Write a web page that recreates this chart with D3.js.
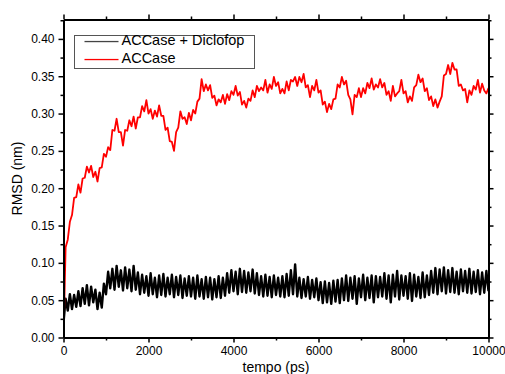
<!DOCTYPE html>
<html>
<head>
<meta charset="utf-8">
<script src="https://cdn.jsdelivr.net/npm/d3@7"></script>
<style>
  body { margin: 0; background: #fff; }
  svg { font-family: Arial, "Liberation Sans", sans-serif; }
</style>
</head>
<body>
<svg id="chart" width="505" height="374"></svg>
<script>
// sampling step of both series (ps)
const stepPs = 50;

const xTicks = [0, 2000, 4000, 6000, 8000, 10000];
const yTicks = [0.00, 0.05, 0.10, 0.15, 0.20, 0.25, 0.30, 0.35, 0.40];

const seriesNames = ['ACCase + Diclofop', 'ACCase'];
const seriesColors = ['#000000', '#ff0000'];
const legendColors = ['#444444', '#ff0000'];

// ACCase + Diclofop, RMSD (nm) every 50 ps
const rmsdDiclofop = [
  0.020, 0.052, 0.036, 0.058, 0.038, 0.057, 0.041, 0.062, 0.042, 0.066,
  0.045, 0.070, 0.043, 0.068, 0.047, 0.064, 0.038, 0.060, 0.040, 0.072,
  0.058, 0.088, 0.066, 0.092, 0.064, 0.096, 0.068, 0.090, 0.063, 0.094,
  0.066, 0.091, 0.062, 0.096, 0.064, 0.087, 0.058, 0.084, 0.060, 0.082,
  0.056, 0.086, 0.058, 0.080, 0.054, 0.083, 0.057, 0.085, 0.055, 0.080,
  0.058, 0.084, 0.054, 0.081, 0.057, 0.083, 0.053, 0.079, 0.056, 0.082,
  0.055, 0.080, 0.052, 0.083, 0.055, 0.078, 0.052, 0.081, 0.054, 0.080,
  0.051, 0.078, 0.054, 0.082, 0.053, 0.080, 0.056, 0.086, 0.060, 0.090,
  0.062, 0.088, 0.058, 0.092, 0.061, 0.089, 0.060, 0.087, 0.062, 0.091,
  0.059, 0.086, 0.057, 0.082, 0.055, 0.084, 0.056, 0.081, 0.054, 0.083,
  0.057, 0.080, 0.055, 0.082, 0.054, 0.085, 0.056, 0.090, 0.058, 0.098,
  0.055, 0.080, 0.053, 0.078, 0.055, 0.081, 0.052, 0.077, 0.054, 0.079,
  0.050, 0.074, 0.046, 0.075, 0.047, 0.073, 0.045, 0.076, 0.048, 0.077,
  0.046, 0.079, 0.050, 0.083, 0.049, 0.080, 0.052, 0.082, 0.045, 0.079,
  0.054, 0.084, 0.050, 0.080, 0.053, 0.083, 0.047, 0.082, 0.054, 0.081,
  0.055, 0.086, 0.052, 0.083, 0.047, 0.084, 0.055, 0.089, 0.051, 0.083,
  0.056, 0.082, 0.052, 0.086, 0.049, 0.084, 0.055, 0.081, 0.053, 0.087,
  0.054, 0.083, 0.057, 0.089, 0.060, 0.093, 0.058, 0.091, 0.062, 0.094,
  0.059, 0.090, 0.061, 0.093, 0.060, 0.088, 0.058, 0.091, 0.062, 0.089,
  0.060, 0.092, 0.059, 0.088, 0.061, 0.090, 0.058, 0.087, 0.060, 0.089,
  0.062
];

// ACCase, RMSD (nm) every 50 ps
const rmsdApo = [
  0.000, 0.121, 0.131, 0.155, 0.164, 0.187, 0.188, 0.205, 0.194, 0.213,
  0.214, 0.229, 0.221, 0.230, 0.215, 0.222, 0.209, 0.227, 0.228, 0.246,
  0.242, 0.255, 0.251, 0.278, 0.277, 0.293, 0.275, 0.275, 0.257, 0.278,
  0.277, 0.291, 0.283, 0.296, 0.280, 0.295, 0.295, 0.310, 0.303, 0.318,
  0.300, 0.306, 0.293, 0.304, 0.296, 0.311, 0.297, 0.297, 0.278, 0.281,
  0.263, 0.262, 0.250, 0.275, 0.281, 0.303, 0.293, 0.295, 0.286, 0.301,
  0.291, 0.305, 0.300, 0.316, 0.320, 0.346, 0.330, 0.339, 0.331, 0.338,
  0.321, 0.324, 0.311, 0.319, 0.315, 0.325, 0.313, 0.326, 0.318, 0.330,
  0.325, 0.337, 0.324, 0.329, 0.312, 0.317, 0.308, 0.320, 0.317, 0.331,
  0.322, 0.337, 0.330, 0.335, 0.331, 0.345, 0.328, 0.339, 0.333, 0.349,
  0.337, 0.342, 0.327, 0.333, 0.327, 0.343, 0.331, 0.345, 0.343, 0.349,
  0.337, 0.349, 0.342, 0.353, 0.335, 0.338, 0.322, 0.337, 0.331, 0.345,
  0.328, 0.331, 0.312, 0.316, 0.302, 0.313, 0.306, 0.319, 0.320, 0.339,
  0.335, 0.349, 0.339, 0.344, 0.325, 0.319, 0.299, 0.325, 0.322, 0.334,
  0.322, 0.334, 0.327, 0.341, 0.334, 0.347, 0.332, 0.339, 0.335, 0.346,
  0.335, 0.341, 0.325, 0.330, 0.317, 0.337, 0.323, 0.327, 0.330, 0.345,
  0.327, 0.330, 0.315, 0.323, 0.317, 0.335, 0.338, 0.352, 0.342, 0.347,
  0.330, 0.334, 0.318, 0.323, 0.310, 0.319, 0.308, 0.316, 0.323, 0.351,
  0.353, 0.365, 0.353, 0.368, 0.359, 0.359, 0.337, 0.339, 0.331, 0.333,
  0.315, 0.331, 0.325, 0.337, 0.332, 0.345, 0.328, 0.340, 0.331, 0.327,
  0.334
];

const seriesValues = [rmsdDiclofop, rmsdApo];
const seriesWidths = [2.4, 1.8];

const svg = d3.select('#chart');
const margin = { top: 19.5, right: 16.5, bottom: 36.5, left: 63.5 };
const width = 505, height = 374;

const x = d3.scaleLinear().domain([0, 10000]).range([margin.left, width - margin.right]);
const y = d3.scaleLinear().domain([0, 0.426]).range([height - margin.bottom, margin.top]);

svg.append('defs').append('clipPath').attr('id', 'plot')
  .append('rect')
  .attr('x', x(0)).attr('y', y(0.426))
  .attr('width', x(10000) - x(0)).attr('height', y(0) - y(0.426));

const lineGen = d3.line()
  .x((d, i) => x(i * stepPs))
  .y(d => y(d));

const plot = svg.append('g').attr('clip-path', 'url(#plot)');
seriesValues.forEach((vals, i) => {
  plot.append('path')
    .datum(vals)
    .attr('fill', 'none')
    .attr('stroke', seriesColors[i])
    .attr('stroke-width', seriesWidths[i])
    .attr('stroke-linejoin', 'round')
    .attr('d', lineGen);
});

// minor ticks
const xMinor = d3.range(1000, 10000, 2000);
const yMinor = d3.range(0.025, 0.426, 0.05);

function styleAxis(g) {
  g.select('.domain').attr('stroke-width', 2);
  g.selectAll('.tick line').attr('stroke-width', 1.5);
  g.selectAll('.tick text').style('font-size', '12px').attr('fill', '#000');
}

const fmtX = d3.format('d');
const fmtY = d3.format('.2f');

svg.append('g')
  .attr('transform', `translate(0,${y(0)})`)
  .call(d3.axisBottom(x).tickValues(xTicks).tickFormat(fmtX).tickSize(5).tickSizeOuter(0).tickPadding(4))
  .call(styleAxis);
svg.append('g')
  .attr('transform', `translate(0,${y(0)})`)
  .call(d3.axisBottom(x).tickValues(xMinor).tickFormat('').tickSize(3).tickSizeOuter(0))
  .call(styleAxis);

svg.append('g')
  .attr('transform', `translate(0,${y(0.426)})`)
  .call(d3.axisTop(x).tickValues(xTicks).tickFormat('').tickSize(5).tickSizeOuter(0))
  .call(styleAxis);
svg.append('g')
  .attr('transform', `translate(0,${y(0.426)})`)
  .call(d3.axisTop(x).tickValues(xMinor).tickFormat('').tickSize(3).tickSizeOuter(0))
  .call(styleAxis);

svg.append('g')
  .attr('transform', `translate(${x(0)},0)`)
  .call(d3.axisLeft(y).tickValues(yTicks).tickFormat(fmtY).tickSize(5).tickSizeOuter(0).tickPadding(4))
  .call(styleAxis);
svg.append('g')
  .attr('transform', `translate(${x(0)},0)`)
  .call(d3.axisLeft(y).tickValues(yMinor).tickFormat('').tickSize(3).tickSizeOuter(0))
  .call(styleAxis);

svg.append('g')
  .attr('transform', `translate(${x(10000)},0)`)
  .call(d3.axisRight(y).tickValues(yTicks).tickFormat('').tickSize(5).tickSizeOuter(0))
  .call(styleAxis);
svg.append('g')
  .attr('transform', `translate(${x(10000)},0)`)
  .call(d3.axisRight(y).tickValues(yMinor).tickFormat('').tickSize(3).tickSizeOuter(0))
  .call(styleAxis);

// axis titles
svg.append('text')
  .attr('x', (x(0) + x(10000)) / 2)
  .attr('y', 372)
  .attr('text-anchor', 'middle')
  .style('font-size', '14px')
  .text('tempo (ps)');

svg.append('text')
  .attr('transform', `translate(22,${(y(0) + y(0.426)) / 2}) rotate(-90)`)
  .attr('text-anchor', 'middle')
  .style('font-size', '14px')
  .text('RMSD (nm)');

// legend
const legend = svg.append('g').attr('transform', 'translate(74.5,35.5)');
legend.append('rect')
  .attr('width', 180).attr('height', 33)
  .attr('fill', '#fff')
  .attr('stroke', '#555').attr('stroke-width', 1);

seriesNames.forEach((name, i) => {
  const row = legend.append('g').attr('transform', `translate(0,${6 + i * 18})`);
  row.append('rect')
    .attr('x', 10).attr('y', -0.6)
    .attr('width', 34).attr('height', 1.3)
    .attr('fill', legendColors[i]);
  row.append('text')
    .attr('x', 47)
    .attr('y', 0)
    .attr('dominant-baseline', 'middle')
    .style('font-size', '14.5px')
    .text(name);
});
</script>
</body>
</html>
